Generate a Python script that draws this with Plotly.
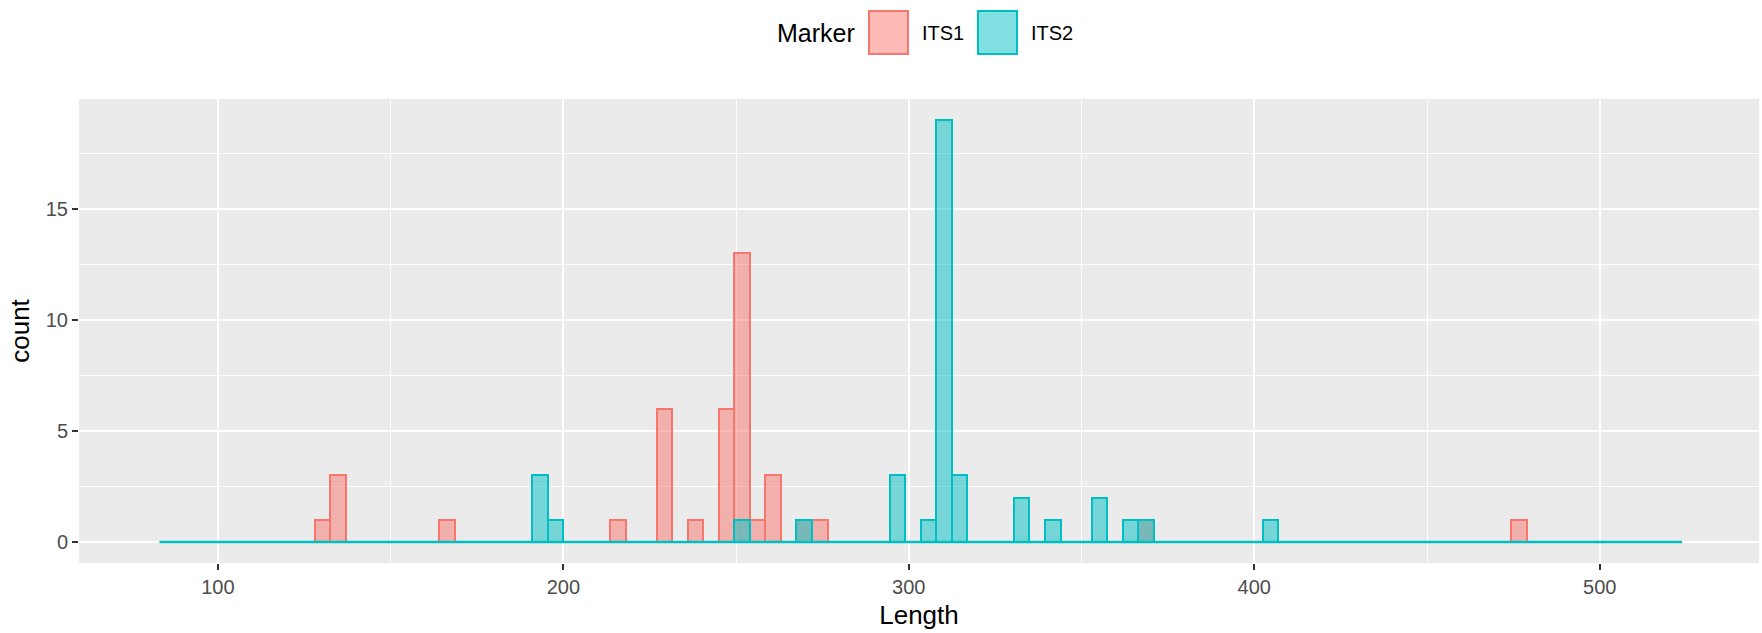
import plotly.graph_objects as go

# ---- data ----
bin_start = 83.1      # left edge of first bin (Length)
bin_width = 4.497     # histogram bin width
n_bins = 98

its1_bins = [10, 11, 18, 29, 32, 34, 36, 37, 38, 39, 41, 42, 63, 87]
its1_counts = [1, 3, 1, 1, 6, 1, 6, 13, 1, 3, 1, 1, 1, 1]

its2_bins = [24, 25, 37, 41, 47, 49, 50, 51, 55, 57, 60, 62, 63, 71]
its2_counts = [3, 1, 1, 1, 3, 1, 19, 3, 2, 1, 2, 1, 1, 1]

x_ticks = [100, 200, 300, 400, 500]
y_ticks = [0, 5, 10, 15]
markers = ["ITS1", "ITS2"]

# ---- styles ----
COL = {"ITS1": "#F8766D", "ITS2": "#00BFC4"}
FILL = {"ITS1": "rgba(248,118,109,0.5)", "ITS2": "rgba(0,191,196,0.5)"}
FONT = "Liberation Sans, Arial, sans-serif"

W, H = 1762, 633
ML, MR, MT, MB = 79, 3, 99, 70


def centers(bins):
    return [bin_start + (k + 0.5) * bin_width for k in bins]


fig = go.Figure()
for name, bins, counts in [("ITS1", its1_bins, its1_counts), ("ITS2", its2_bins, its2_counts)]:
    fig.add_trace(go.Bar(
        x=centers(bins), y=counts, width=bin_width, name=name,
        marker=dict(color=FILL[name], line=dict(color=COL[name], width=2)),
        showlegend=False, hoverinfo="x+y+name",
    ))

# zero-count bins outline (baseline across the whole binned range)
fig.add_trace(go.Scatter(
    x=[bin_start, bin_start + n_bins * bin_width], y=[0, 0], mode="lines",
    line=dict(color=COL["ITS2"], width=2.5), showlegend=False, hoverinfo="skip",
))

# ---- manual ggplot-like legend on top ----
pw = W - ML - MR
ph = H - MT - MB


def px_x(p):
    return (p - ML) / pw


def px_y(p):
    return (H - MB - p) / ph


fig.add_annotation(x=px_x(775), y=px_y(33), xref="paper", yref="paper",
                   text="Marker", showarrow=False, xanchor="left", yanchor="middle",
                   font=dict(family=FONT, size=25, color="black"))
key_x = {"ITS1": 869, "ITS2": 978}
for name in markers:
    x0 = key_x[name]
    fig.add_shape(type="rect", xref="paper", yref="paper",
                  x0=px_x(x0), x1=px_x(x0 + 39), y0=px_y(11), y1=px_y(54),
                  fillcolor=FILL[name], line=dict(color=COL[name], width=2))
    fig.add_annotation(x=px_x(x0 + 51), y=px_y(33), xref="paper", yref="paper",
                       text=name, showarrow=False, xanchor="left", yanchor="middle",
                       font=dict(family=FONT, size=20, color="black"))

fig.update_layout(
    width=W, height=H,
    margin=dict(l=ML, r=MR, t=MT, b=MB),
    paper_bgcolor="white", plot_bgcolor="#EBEBEB",
    barmode="overlay", bargap=0,
    font=dict(family=FONT, color="#4D4D4D"),
    showlegend=False,
)
fig.update_xaxes(
    range=[59.8, 546.1], tickvals=x_ticks, ticktext=[str(v) for v in x_ticks],
    showgrid=True, gridcolor="white", gridwidth=2, zeroline=False,
    ticks="outside", ticklen=6, tickwidth=2, tickcolor="#333333",
    tickfont=dict(family=FONT, size=20, color="#4D4D4D"),
    minor=dict(tickvals=[150, 250, 350, 450], showgrid=True, gridcolor="white", gridwidth=1, ticks=""),
    title=dict(text="Length", font=dict(family=FONT, size=26, color="black"), standoff=8),
    showline=False, automargin=False,
)
fig.update_yaxes(
    range=[-0.95, 19.95], tickvals=y_ticks, ticktext=[str(v) for v in y_ticks],
    showgrid=True, gridcolor="white", gridwidth=2, zeroline=False,
    ticks="outside", ticklen=6, tickwidth=2, tickcolor="#333333",
    tickfont=dict(family=FONT, size=20, color="#4D4D4D"),
    minor=dict(tickvals=[2.5, 7.5, 12.5, 17.5], showgrid=True, gridcolor="white", gridwidth=1, ticks=""),
    title=dict(text="count", font=dict(family=FONT, size=26, color="black"), standoff=8),
    showline=False, automargin=False,
)

fig.write_html("out.html")
